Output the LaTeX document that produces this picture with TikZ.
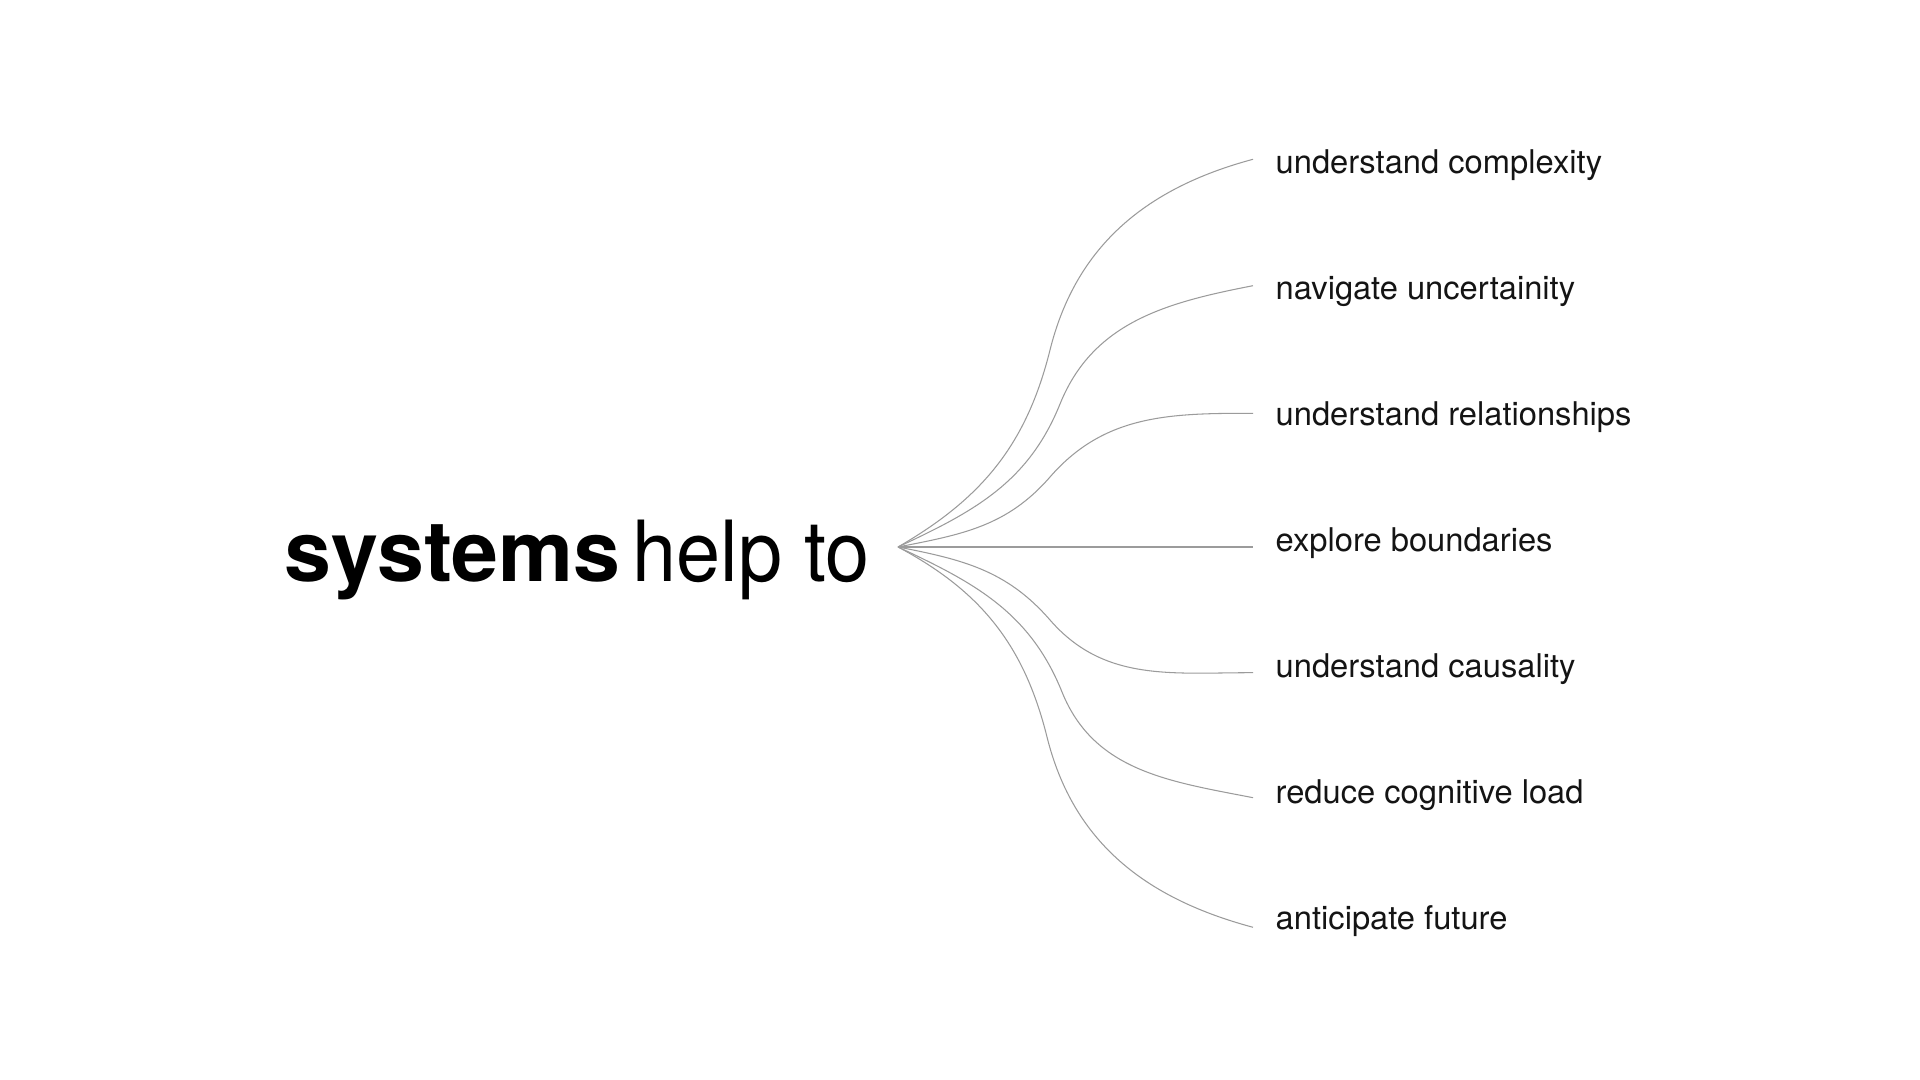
\documentclass[tikz,border=0pt]{standalone}
\usepackage{fontspec}
\setmainfont{TeX Gyre Heros}
\usetikzlibrary{positioning}
\definecolor{branchgray}{RGB}{155,155,155}
\definecolor{labelblack}{RGB}{20,20,20}

\begin{document}
\begin{tikzpicture}[
    font=\rmfamily,
    branch/.style={draw=branchgray, line width=0.3pt},
    item/.style={anchor=base west, inner sep=0pt, text=labelblack,
        font=\fontsize{9.3pt}{11pt}\selectfont}
]

% ============================================================
% Global dimensions
% ============================================================
\def\endX{12.53}
\def\textX{12.75}
\useasboundingbox (0,0) rectangle (19.2,10.8);

% ============================================================
% LEFT: TITLE
% ============================================================
\node[anchor=base west, inner sep=0pt, font=\fontsize{24pt}{28pt}\selectfont]
    (title) at (2.84,4.983)
    {\textbf{systems}\hspace{1.2mm}{\addfontfeature{FakeStretch=0.94}help to}};

% Fan origin
\coordinate (hub) at (8.98,5.33);

% ============================================================
% RIGHT: ITEMS
% ============================================================
\foreach \name/\ey/\by/\txt in {
    complexity/9.207/9.067/understand complexity,
    uncertainty/7.943/7.807/navigate uncertainity,
    relationships/6.667/6.547/understand relationships,
    boundaries/5.33/5.287/explore boundaries,
    causality/4.073/4.027/understand causality,
    load/2.823/2.767/reduce cognitive load,
    future/1.527/1.507/anticipate future} {
    \coordinate (\name-end) at (\endX,\ey);
    \node[item] (\name) at (\textX,\by) {\txt};
}

% Curved branches
\foreach \name/\mx/\my/\aout/\amin/\amid/\ain in {
    complexity/10.50/7.30/30/256/76/195,
    uncertainty/10.60/6.76/25/248/68/191,
    relationships/10.50/6.03/11/229/49/180,
    causality/10.50/4.60/-11/131/-49/180,
    load/10.62/3.88/-25/112/-68/169,
    future/10.47/3.43/-28/104/-76/165} {
    \draw[branch] (hub) to[out=\aout, in=\amin] (\mx,\my)
        to[out=\amid, in=\ain] (\name-end);
}

% Straight branch
\draw[branch] (hub) -- (boundaries-end);

\end{tikzpicture}
\end{document}
